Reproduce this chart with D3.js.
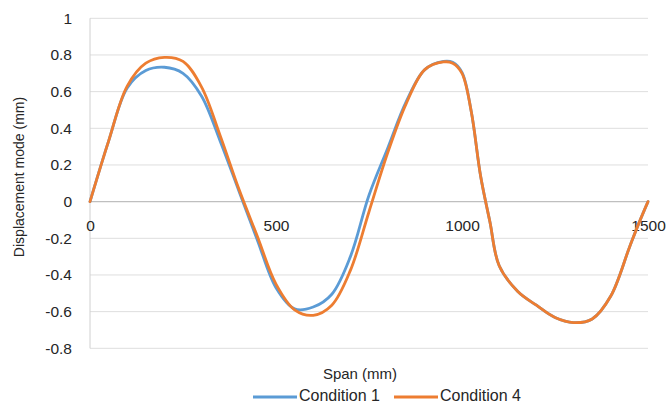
<!DOCTYPE html>
<html>
<head>
<meta charset="utf-8">
<script src="https://cdn.jsdelivr.net/npm/d3@7"></script>
<style>
  html, body { margin: 0; padding: 0; background: #fff; }
  svg { display: block; font-family: "Liberation Sans", Arial, sans-serif; }
</style>
</head>
<body>
<svg id="chart" width="667" height="414"></svg>
<script>
// Span positions along the beam (mm)
const span = [0, 50, 100, 150, 200, 250, 300, 350, 400, 450, 500, 550, 600, 650, 700,
  750, 800, 850, 900, 950, 975, 1000, 1025, 1050, 1075, 1100, 1150, 1200, 1250,
  1300, 1350, 1400, 1450, 1475, 1500];

// Displacement mode (mm) for each loading condition
const condition1 = [0, 0.33, 0.62, 0.715, 0.733, 0.70, 0.575, 0.33, 0.06, -0.21, -0.47,
  -0.585, -0.575, -0.505, -0.30, 0.035, 0.29, 0.545, 0.72, 0.765, 0.76, 0.705, 0.49, 0.14,
  -0.11, -0.35, -0.49, -0.565, -0.632, -0.66, -0.64, -0.515, -0.25, -0.12, 0];
const condition4 = [0, 0.33, 0.63, 0.755, 0.787, 0.765, 0.625, 0.36, 0.07, -0.19, -0.45,
  -0.59, -0.62, -0.565, -0.375, -0.055, 0.265, 0.535, 0.72, 0.762, 0.755, 0.70, 0.49, 0.14,
  -0.11, -0.35, -0.49, -0.565, -0.632, -0.66, -0.64, -0.515, -0.25, -0.12, 0];

const seriesNames = ["Condition 1", "Condition 4"];
const seriesColors = ["#5b9bd5", "#ed7d31"];
const yTicks = [-0.8, -0.6, -0.4, -0.2, 0, 0.2, 0.4, 0.6, 0.8, 1];
const xTicks = [0, 500, 1000, 1500];

const svg = d3.select("#chart");
const x = d3.scaleLinear().domain([0, 1500]).range([90, 648]);
const y = d3.scaleLinear().domain([-0.8, 1]).range([348.3, 18.3]);

// Horizontal gridlines
svg.append("g")
  .selectAll("line")
  .data(yTicks)
  .join("line")
  .attr("x1", x(0)).attr("x2", x(1500))
  .attr("y1", d => y(d)).attr("y2", d => y(d))
  .attr("stroke", d => d === 0 ? "#bfbfbf" : "#dedede")
  .attr("stroke-width", d => d === 0 ? 1.3 : 1);

// Vertical axis line
svg.append("line")
  .attr("x1", x(0)).attr("x2", x(0))
  .attr("y1", y(1)).attr("y2", y(-0.8))
  .attr("stroke", "#d0d0d0");

// Y axis labels
const yAxis = svg.append("g")
  .attr("transform", `translate(${x(0)},0)`)
  .call(d3.axisLeft(y).tickValues(yTicks).tickSize(0).tickPadding(18)
    .tickFormat(d => String(+d.toFixed(1))));
yAxis.select(".domain").remove();
yAxis.selectAll("text").attr("font-size", 15.5).attr("fill", "#262626")
  .attr("font-family", "Liberation Sans, Arial, sans-serif");

// X axis labels sit just below the zero line
const xAxis = svg.append("g")
  .attr("transform", `translate(0,${y(0)})`)
  .call(d3.axisBottom(x).tickValues(xTicks).tickSize(0).tickPadding(18)
    .tickFormat(d3.format("d")));
xAxis.select(".domain").remove();
xAxis.selectAll("text").attr("font-size", 15.5).attr("fill", "#262626")
  .attr("font-family", "Liberation Sans, Arial, sans-serif");

// Series lines
const line = d3.line().curve(d3.curveCatmullRom.alpha(0.5));
[condition1, condition4].forEach((vals, i) => {
  svg.append("path")
    .datum(span.map((s, k) => [x(s), y(vals[k])]))
    .attr("d", line)
    .attr("fill", "none")
    .attr("stroke", seriesColors[i])
    .attr("stroke-width", 2.8)
    .attr("stroke-linejoin", "round")
    .attr("stroke-linecap", "round");
});

// Axis titles
svg.append("text")
  .attr("transform", "translate(20,177) rotate(-90)")
  .attr("text-anchor", "middle").attr("dominant-baseline", "middle")
  .attr("font-size", 14).attr("fill", "#262626")
  .text("Displacement mode (mm)");
svg.append("text")
  .attr("x", 360).attr("y", 375)
  .attr("text-anchor", "middle").attr("dominant-baseline", "middle")
  .attr("font-size", 15).attr("fill", "#262626")
  .text("Span (mm)");

// Legend
const legend = svg.append("g").selectAll("g")
  .data(seriesNames)
  .join("g")
  .attr("transform", (d, i) => `translate(${253 + i * 141},397)`);
legend.append("line")
  .attr("x1", 0).attr("x2", 44)
  .attr("stroke", (d, i) => seriesColors[i]).attr("stroke-width", 2.8);
legend.append("text")
  .attr("x", 46).attr("dominant-baseline", "middle")
  .attr("font-size", 16).attr("fill", "#262626")
  .text(d => d);
</script>
</body>
</html>
